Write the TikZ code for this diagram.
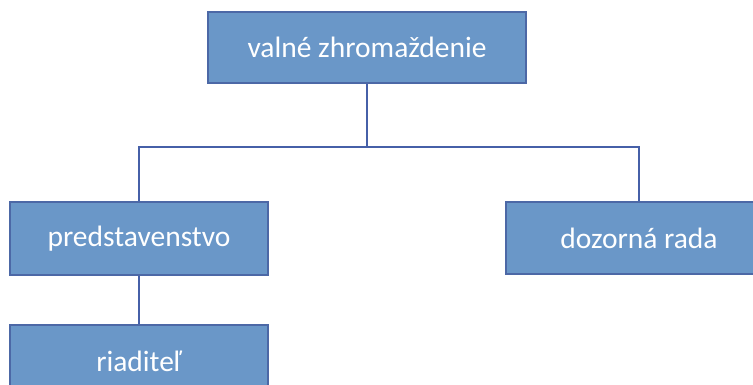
\documentclass[tikz,border=0pt]{standalone}
\usepackage{fontspec}
\setmainfont{Carlito}
\definecolor{boxfill}{HTML}{6A97C8}
\definecolor{boxline}{HTML}{4C68A6}
\definecolor{wire}{HTML}{4660A8}
\tikzset{
  orgbox/.style={draw=boxline, line width=2pt, fill=boxfill, text=white,
    font=\fontsize{29.5}{34}\selectfont, inner sep=0pt},
}
\begin{document}
\begin{tikzpicture}[x=1pt,y=1pt]
      \useasboundingbox (0,0) rectangle (753,385);
      \clip (0,0) rectangle (753,385);
      \draw
        (367,337.5) node[orgbox, minimum width=318pt, minimum height=71pt] (vz){valné zhromaždenie}
        (139,146.5) node[orgbox, minimum width=258pt, minimum height=73pt] (pr){predstavenstvo}
        (639,147) node[orgbox, minimum width=266pt, minimum height=72pt] (dr){dozorná rada}
        (139,24) node[orgbox, minimum width=258pt, minimum height=72pt] (ri){riaditeľ};
      \coordinate (bus) at (367,238);
      \begin{scope}[-, draw=wire, line width=1.2pt]
        \draw (vz.south) -- (vz.south |- bus) -| (pr.north);
        \draw (vz.south |- bus) -| (dr.north);
        \draw (pr.south) to (ri.north);
      \end{scope}
    \end{tikzpicture}
\end{document}
